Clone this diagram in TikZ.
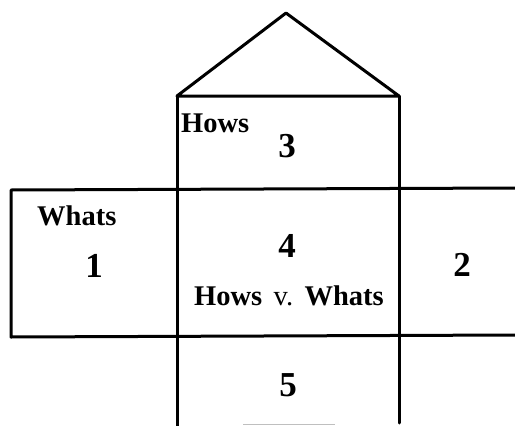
\documentclass[tikz,border=0pt]{standalone}
\usepackage{fontspec}
\setmainfont{Liberation Serif}
\begin{document}
\begin{tikzpicture}[x=1pt,y=-1pt,
  edge/.style={line width=3pt,line cap=round,line join=round},
  lbl/.style={font=\fontsize{28.5}{32}\selectfont\bfseries,inner sep=0pt,anchor=base west},
  num/.style={font=\fontsize{35}{38}\selectfont\bfseries,inner sep=0pt,anchor=base}]
\useasboundingbox (0,0) rectangle (515,426);
% corners
\coordinate (apex) at (286,13);
\coordinate (rl) at (177,96);
\coordinate (rr) at (399,96);
\coordinate (cbl) at (177,426);
\coordinate (cbr) at (399,423);
\coordinate (btl) at (11,190);
\coordinate (btr) at (515,188);
\coordinate (bbl) at (11,337);
\coordinate (bbr) at (515,335);
\coordinate (fb1) at (243,424);
\coordinate (fb2) at (335,424);
% roof
\draw[edge] (rl) -- (apex) -- (rr) -- cycle;
% column
\draw[edge] (rl) -- (cbl);
\draw[edge] (rr) -- (cbr);
% band
\draw[edge] (btr) -- (btl) -- (bbl) -- (bbr);
\draw[gray!50,line width=1pt] (fb1) -- (fb2);
% texts
\node[lbl] (hows) at (181,132) {Hows};
\node[num] (n3) at (287,157) {3};
\node[lbl] (whats) at (37,225) {Whats};
\node[num] (n1) at (94,277) {1};
\node[num] (n4) at (287,257) {4};
\node[lbl,anchor=base] (hvw) at (289,305) {Hows\hspace{0.4em}{\mdseries v.}\hspace{0.4em}Whats};
\node[num] (n2) at (462,276) {2};
\node[num] (n5) at (288,396) {5};
\end{tikzpicture}
\end{document}
